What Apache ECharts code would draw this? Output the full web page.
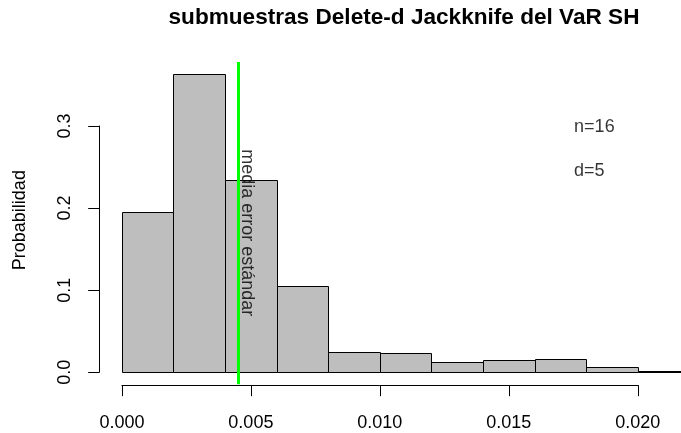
<!DOCTYPE html>
<html>
<head>
<meta charset="utf-8">
<script src="https://cdn.jsdelivr.net/npm/echarts@6/dist/echarts.min.js"></script>
<style>
  html, body { margin: 0; padding: 0; background: #ffffff; }
  #chart { width: 681px; height: 433px; }
</style>
</head>
<body>
<div id="chart"></div>
<script>
// Histogram of jackknife sub-sample VaR standard errors (relative frequencies)
const binStarts = [0.000, 0.002, 0.004, 0.006, 0.008, 0.010, 0.012, 0.014, 0.016, 0.018, 0.020];
const binWidth = 0.002;
const probabilities = [0.1956, 0.3633, 0.2342, 0.1051, 0.0246, 0.0235, 0.0129, 0.0146, 0.0158, 0.0061, 0.0013];

// Mean standard error (vertical reference line)
const meanStdError = 0.00452;
const meanLabel = 'media error estándar';
const meanLabelPos = [0.00484, 0.170];

// Annotations in the upper right
const notes = ['n=16', 'd=5'];
const notesX = [0.01753, 0.01753];
const notesY = [0.2988, 0.2452];

// Axis ticks
const xTicks = [0.000, 0.005, 0.010, 0.015, 0.020];
const yTicks = [0.0, 0.1, 0.2, 0.3];

const titleText = 'submuestras Delete-d Jackknife del VaR SH';
const yTitle = 'Probabilidad';

const FONT = '"Liberation Sans", Arial, Helvetica, sans-serif';

// R-style axis ranges: data range extended by 4% on each side
const xLo = binStarts[0];
const xHi = binStarts[binStarts.length - 1] + binWidth;
const xPad = 0.04 * (xHi - xLo);
const yHi = Math.max(...probabilities);
const yPad = 0.04 * yHi;

// Plot region in pixels (extends past the right edge of the canvas)
const plot = { left: 99.2, top: 62.1, width: 612.9, height: 322.1 };
const xToPx = v => plot.left + (v - (xLo - xPad)) / (xHi - xLo + 2 * xPad) * plot.width;
const yToPx = v => plot.top + ((yHi + yPad) - v) / (yHi + 2 * yPad) * plot.height;

const xTickMin = xTicks[0], xTickMax = xTicks[xTicks.length - 1];
const yTickMin = yTicks[0], yTickMax = yTicks[yTicks.length - 1];

const chart = echarts.init(document.getElementById('chart'), null, { renderer: 'canvas' });

const axisBase = {
  axisLine: { show: true, lineStyle: { color: '#000', width: 1 } },
  axisTick: { show: true, length: 11, lineStyle: { color: '#000', width: 1 } },
  splitLine: { show: false }
};

chart.setOption({
  animation: false,
  backgroundColor: '#ffffff',
  textStyle: { fontFamily: FONT },
  grid: [
    { left: plot.left, top: plot.top, width: plot.width, height: plot.height, outerBoundsMode: 'none', containLabel: false },
    // x axis spans only the tick range, drawn at the bottom of the plot region
    { left: xToPx(xTickMin), width: xToPx(xTickMax) - xToPx(xTickMin), top: plot.top, height: plot.height + 1, outerBoundsMode: 'none', containLabel: false },
    // y axis spans only the tick range, drawn at the left of the plot region
    { left: plot.left, width: 10, top: yToPx(yTickMax), height: yToPx(yTickMin) - yToPx(yTickMax), outerBoundsMode: 'none', containLabel: false }
  ],
  xAxis: [
    { gridIndex: 0, type: 'value', min: xLo - xPad, max: xHi + xPad, show: false },
    Object.assign({}, axisBase, {
      gridIndex: 1, type: 'value', min: xTickMin, max: xTickMax,
      interval: xTicks[1] - xTicks[0],
      axisLabel: {
        color: '#000', fontSize: 18, fontFamily: FONT, margin: 29,
        formatter: v => v.toFixed(3)
      }
    }),
    { gridIndex: 2, type: 'value', show: false }
  ],
  yAxis: [
    { gridIndex: 0, type: 'value', min: -yPad, max: yHi + yPad, show: false },
    { gridIndex: 1, type: 'value', show: false },
    Object.assign({}, axisBase, {
      gridIndex: 2, type: 'value', min: yTickMin, max: yTickMax,
      interval: yTicks[1] - yTicks[0],
      axisLabel: {
        color: '#000', fontSize: 18, fontFamily: FONT, margin: 25, rotate: 90,
        formatter: v => v.toFixed(1)
      }
    })
  ],
  graphic: [
    {
      type: 'text', x: 404, y: 18,
      style: {
        text: titleText, fill: '#000',
        font: 'bold 22.6px ' + FONT, textAlign: 'center', textVerticalAlign: 'middle'
      }
    },
    {
      type: 'text', x: 20, y: plot.top + plot.height / 2 - 3, rotation: Math.PI / 2,
      style: {
        text: yTitle, fill: '#000',
        font: '18px ' + FONT, textAlign: 'center', textVerticalAlign: 'middle'
      }
    }
  ],
  series: [
    {
      type: 'custom',
      xAxisIndex: 0, yAxisIndex: 0,
      clip: false,
      data: binStarts.map((s, i) => [s, s + binWidth, probabilities[i]]),
      encode: { x: [0, 1], y: 2 },
      renderItem: (params, api) => {
        const p0 = api.coord([api.value(0), 0]);
        const p1 = api.coord([api.value(1), api.value(2)]);
        const x0 = Math.round(p0[0]) + 0.5, x1 = Math.round(p1[0]) + 0.5;
        const yb = Math.round(p0[1]) + 0.5, yt = Math.round(p1[1]) + 0.5;
        return {
          type: 'rect',
          shape: { x: x0, y: yt, width: x1 - x0, height: yb - yt },
          style: { fill: '#bebebe', stroke: '#000', lineWidth: 1 }
        };
      },
      z: 2
    },
    {
      // vertical reference line at the mean standard error, spanning the plot region
      type: 'line',
      xAxisIndex: 0, yAxisIndex: 0,
      data: [[meanStdError, -yPad], [meanStdError, yHi + yPad]],
      symbol: 'none', silent: true,
      lineStyle: { color: '#00ff00', width: 3 },
      z: 3
    },
    {
      type: 'scatter',
      xAxisIndex: 0, yAxisIndex: 0,
      symbolSize: 0, silent: true,
      data: [[meanLabelPos[0], meanLabelPos[1], meanLabel]],
      label: {
        show: true, position: 'inside', rotate: -90,
        color: '#000', fontSize: 18, fontFamily: FONT,
        formatter: p => p.data[2]
      },
      z: 5
    },
    {
      type: 'scatter',
      xAxisIndex: 0, yAxisIndex: 0,
      symbolSize: 0, silent: true,
      data: notes.map((t, i) => [notesX[i], notesY[i], t]),
      label: {
        show: true, position: 'right', distance: 0, align: 'left',
        color: '#000', fontSize: 18, fontFamily: FONT,
        formatter: p => p.data[2]
      },
      z: 5
    }
  ]
});
</script>
</body>
</html>
